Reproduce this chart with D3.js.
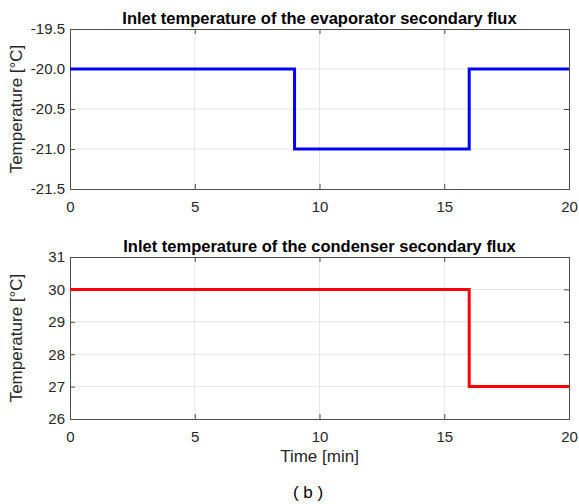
<!DOCTYPE html>
<html>
<head>
  <meta charset="utf-8">
  <title>Inlet temperatures</title>
  <script src="https://d3js.org/d3.v7.min.js"></script>
  <style>
    body { margin: 0; background: #fff; }
    text { font-family: "Liberation Sans", Arial, sans-serif; }
  </style>
</head>
<body>
<script>
// data
var timeTicks = [0, 5, 10, 15, 20];
var evapTime = [0, 9, 9, 16, 16, 20];
var evapTemp = [-20, -20, -21, -21, -20, -20];
var evapTicks = [-21.5, -21.0, -20.5, -20.0, -19.5];
var condTime = [0, 16, 16, 20];
var condTemp = [30, 30, 27, 27];
var condTicks = [26, 27, 28, 29, 30, 31];

var width = 579, height = 504;
var svg = d3.select("body").append("svg").attr("width", width).attr("height", height);

var left = 70, right = 569;
var x = d3.scaleLinear().domain([0, 20]).range([left, right]);

// plain hyphen instead of unicode minus, like the original
var fmt1 = function(d) { return d.toFixed(1); };
var fmt0 = function(d) { return String(d); };

function panel(top, bottom, yDomain, yTicks, fmt, xs, ys, color, title) {
  var y = d3.scaleLinear().domain(yDomain).range([bottom, top]);
  var g = svg.append("g");

  // grid
  g.selectAll(".gx").data(timeTicks.slice(1, -1)).enter().append("line")
    .attr("x1", function(d) { return x(d); }).attr("x2", function(d) { return x(d); })
    .attr("y1", top).attr("y2", bottom)
    .attr("stroke", "#e6e6e6").attr("stroke-width", 1);
  g.selectAll(".gy").data(yTicks.slice(1, -1)).enter().append("line")
    .attr("y1", function(d) { return y(d); }).attr("y2", function(d) { return y(d); })
    .attr("x1", left).attr("x2", right)
    .attr("stroke", "#e6e6e6").attr("stroke-width", 1);

  // axes (inward ticks on all sides)
  var ax = [
    [d3.axisBottom(x).tickValues(timeTicks).tickSize(-5).tickPadding(12), "translate(0," + bottom + ")", true],
    [d3.axisTop(x).tickValues(timeTicks).tickSize(-5), "translate(0," + top + ")", false],
    [d3.axisLeft(y).tickValues(yTicks).tickFormat(fmt).tickSize(-5).tickPadding(5), "translate(" + left + ",0)", true],
    [d3.axisRight(y).tickValues(yTicks).tickSize(-5), "translate(" + right + ",0)", false]
  ];
  ax.forEach(function(a) {
    var ag = g.append("g").attr("transform", a[1]).call(a[0]);
    ag.select(".domain").attr("stroke", "#4d4d4d");
    ag.selectAll(".tick line").attr("stroke", "#4d4d4d");
    ag.selectAll("text").attr("fill", "#262626").attr("font-size", "15px")
      .style("font-family", "'Liberation Sans', Arial, sans-serif");
    if (!a[2]) ag.selectAll("text").remove();
  });

  var pts = xs.map(function(t, i) { return [t, ys[i]]; });
  g.append("path").datum(pts)
    .attr("fill", "none").attr("stroke", color).attr("stroke-width", 3)
    .attr("d", d3.line().x(function(d) { return x(d[0]); }).y(function(d) { return y(d[1]); }));

  g.append("text").attr("x", (left + right) / 2).attr("y", top - 5)
    .attr("text-anchor", "middle").attr("font-size", "16.5px").attr("font-weight", "bold")
    .attr("fill", "#000").text(title);

  g.append("text").attr("transform", "rotate(-90)")
    .attr("x", -(top + bottom) / 2).attr("y", 22)
    .attr("text-anchor", "middle").attr("font-size", "17px").attr("fill", "#262626")
    .text("Temperature [°C]");
}

panel(29, 189, [-21.5, -19.5], evapTicks, fmt1, evapTime, evapTemp, "#0000ff",
  "Inlet temperature of the evaporator secondary flux");
panel(257, 419, [26, 31], condTicks, fmt0, condTime, condTemp, "#ff0000",
  "Inlet temperature of the condenser secondary flux");

svg.append("text").attr("x", (left + right) / 2).attr("y", 462)
  .attr("text-anchor", "middle").attr("font-size", "17px").attr("fill", "#262626")
  .text("Time [min]");
svg.append("text").attr("x", 308).attr("y", 498)
  .attr("text-anchor", "middle").attr("font-size", "17px").attr("fill", "#000")
  .attr("xml:space", "preserve").style("white-space", "pre")
  .text("( b )");
</script>
</body>
</html>
